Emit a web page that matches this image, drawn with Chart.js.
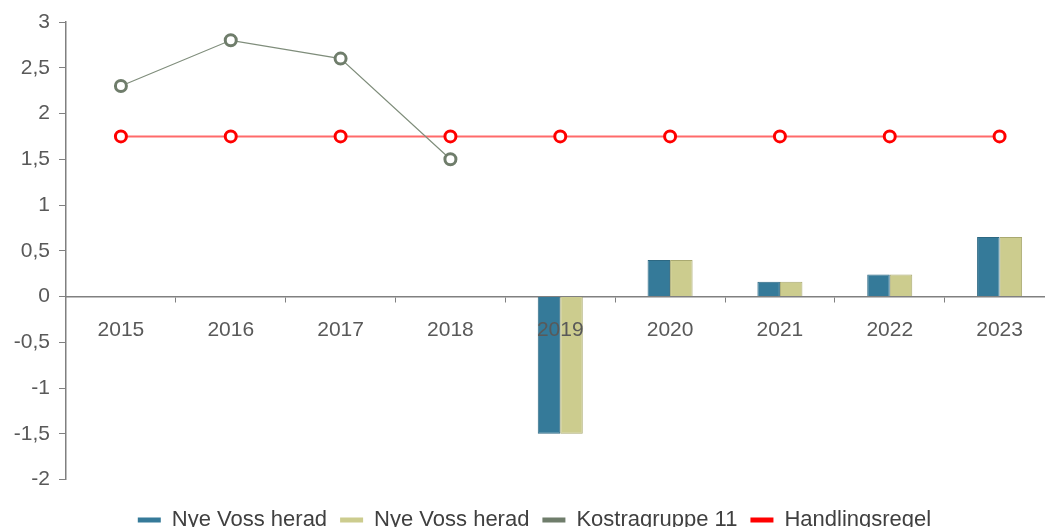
<!DOCTYPE html>
<html>
<head>
<meta charset="utf-8">
<script src="https://cdn.jsdelivr.net/npm/chart.js@4/dist/chart.umd.min.js"></script>
<style>
  html, body { margin: 0; padding: 0; background: #fff; overflow: hidden; }
  #wrap { width: 1045px; height: 527px; overflow: hidden; }
</style>
</head>
<body>
<div id="wrap"><canvas id="chart" width="1063" height="541"></canvas></div>
<script>
var years = ['2015', '2016', '2017', '2018', '2019', '2020', '2021', '2022', '2023'];
var vossA = [null, null, null, null, -1.5, 0.4, 0.16, 0.24, 0.65];
var vossB = [null, null, null, null, -1.5, 0.4, 0.16, 0.24, 0.65];
var kostra = [2.3, 2.8, 2.6, 1.5, null, null, null, null, null];
var regel = [1.75, 1.75, 1.75, 1.75, 1.75, 1.75, 1.75, 1.75, 1.75];
var yTicks = [-2, -1.5, -1, -0.5, 0, 0.5, 1, 1.5, 2, 2.5, 3];

var textColor = '#595959';
var axisColor = '#808080';
var fontFamily = 'Liberation Sans, Arial, sans-serif';

new Chart(document.getElementById('chart'), {
  type: 'bar',
  data: {
    labels: years,
    datasets: [
      {
        label: 'Nye Voss herad',
        data: vossA,
        backgroundColor: '#357a99',
        borderColor: '#2d6882',
        borderWidth: 1,
        order: 2
      },
      {
        label: 'Nye Voss herad',
        data: vossB,
        backgroundColor: '#cccc8e',
        borderColor: '#a9a970',
        borderWidth: 1,
        order: 3
      },
      {
        label: 'Kostragruppe 11',
        type: 'line',
        data: kostra,
        borderColor: '#7f8d7b',
        borderWidth: 1.2,
        pointRadius: 5.5,
        pointBorderWidth: 3,
        pointBorderColor: '#6f7d6b',
        pointBackgroundColor: '#ffffff',
        backgroundColor: '#6f7d6b',
        order: 0
      },
      {
        label: 'Handlingsregel',
        type: 'line',
        data: regel,
        borderColor: 'rgba(255, 80, 80, 0.85)',
        borderWidth: 2,
        pointRadius: 5.5,
        pointBorderWidth: 3,
        pointBorderColor: '#ff0000',
        pointBackgroundColor: '#ffffff',
        backgroundColor: '#ff0000',
        order: 1
      }
    ]
  },
  options: {
    responsive: false,
    animation: false,
    layout: { padding: { top: 22, right: 2, left: 8, bottom: 0 } },
    datasets: {
      bar: { categoryPercentage: 0.41, barPercentage: 1.0 }
    },
    plugins: {
      legend: {
        position: 'bottom',
        title: {
          display: true,
          text: ' ',
          font: { size: 10, lineHeight: 1 },
          padding: { top: 6.5, bottom: 0 }
        },
        labels: {
          boxWidth: 23,
          boxHeight: 5,
          color: '#404040',
          padding: 13,
          font: { family: fontFamily, size: 22 },
          sort: function (a, b) { return a.datasetIndex - b.datasetIndex; },
          generateLabels: function (chart) {
            var items = Chart.defaults.plugins.legend.labels.generateLabels(chart);
            items.forEach(function (it) {
              var ds = chart.data.datasets[it.datasetIndex];
              it.fillStyle = ds.type === 'line' ? ds.pointBorderColor : ds.backgroundColor;
              it.strokeStyle = it.fillStyle;
              it.lineWidth = 0;
            });
            return items;
          }
        }
      },
      tooltip: { enabled: false }
    },
    scales: {
      x: {
        position: { y: 0 },
        grid: {
          display: true,
          drawOnChartArea: false,
          drawTicks: true,
          tickLength: 5,
          tickColor: axisColor,
          offset: true
        },
        border: { color: axisColor, width: 1.5 },
        ticks: {
          z: 1,
          color: textColor,
          padding: 16,
          font: { family: fontFamily, size: 21 }
        }
      },
      y: {
        min: -2,
        max: 3,
        afterBuildTicks: function (axis) {
          axis.ticks = yTicks.map(function (v) { return { value: v }; });
        },
        afterFit: function (axis) { axis.width = 58; },
        grid: {
          display: true,
          drawOnChartArea: false,
          tickLength: 7,
          tickColor: axisColor
        },
        border: { color: axisColor, width: 1.5 },
        ticks: {
          color: textColor,
          padding: 9,
          font: { family: fontFamily, size: 21 },
          callback: function (v) { return String(v).replace('.', ','); }
        }
      }
    }
  }
});
</script>
</body>
</html>
